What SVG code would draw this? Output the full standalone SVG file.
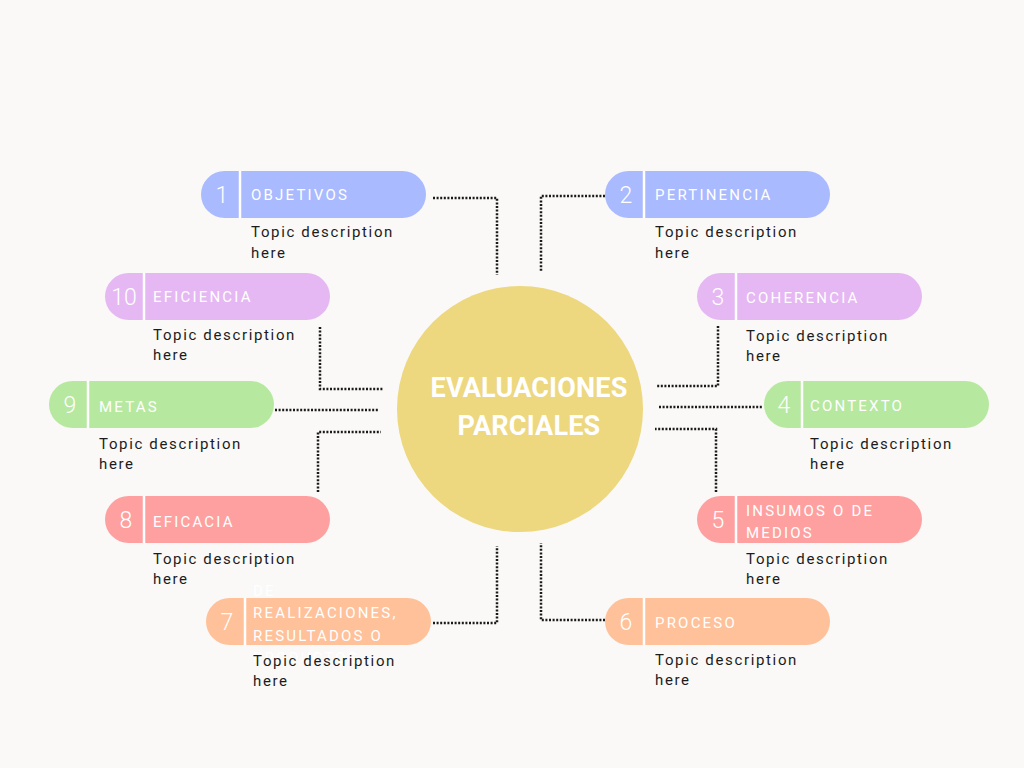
<svg xmlns="http://www.w3.org/2000/svg" width="1024" height="768" viewBox="0 0 1024 768">
  <style>
    .num { font-family: Roboto, "Liberation Sans", sans-serif; font-size: 23px; font-weight: 300; fill: #ffffff; text-anchor: middle; }
    .lbl { font-family: Roboto, "Liberation Sans", sans-serif; font-size: 15px; fill: #ffffff; letter-spacing: 2.2px; }
    .desc { font-family: Roboto, "Liberation Sans", sans-serif; font-size: 15px; fill: #1c1c1c; letter-spacing: 1.65px; }
    .sep { stroke: #ffffff; stroke-width: 2.5; }
    .title { font-family: Roboto, "Liberation Sans", sans-serif; font-size: 27px; font-weight: 700; fill: #ffffff; text-anchor: middle; letter-spacing: 0.2px; }
    .link { fill: none; stroke: #1a1a1a; stroke-width: 2.5; stroke-dasharray: 2 1.6; }
    .blue { fill: #AABAFE; }
    .purple { fill: #E5B8F3; }
    .green { fill: #B6E8A0; }
    .red { fill: #FFA0A0; }
    .peach { fill: #FFC199; }
  </style>
  <rect width="1024" height="768" fill="#FAF9F7"/>

  <g id="connectors">
    <polyline class="link" points="433,198 497,198 497,275"/>
    <polyline class="link" points="605,196 541,196 541,272"/>
    <polyline class="link" points="320,327 320,389 383,389"/>
    <polyline class="link" points="718,326 718,386 657,386"/>
    <polyline class="link" points="275,410 379,410"/>
    <polyline class="link" points="659,407 763,407"/>
    <polyline class="link" points="318,492 318,432 381,432"/>
    <polyline class="link" points="716,492 716,429 655,429"/>
    <polyline class="link" points="433,623 497,623 497,546"/>
    <polyline class="link" points="605,620 541,620 541,543"/>
  </g>

  <g id="center">
    <circle cx="520" cy="409" r="123" fill="#EDD77F"/>
    <text class="title" x="529" y="397">EVALUACIONES</text>
    <text class="title" x="529" y="435">PARCIALES</text>
  </g>

  <g id="node1">
    <rect class="blue" x="201" y="171" width="225" height="47" rx="23.5"/>
    <line class="sep" x1="240" y1="171" x2="240" y2="218"/>
    <text class="num" x="222" y="203">1</text>
    <text class="lbl" x="251" y="200">OBJETIVOS</text>
    <text class="desc" x="251" y="237">Topic description</text>
    <text class="desc" x="251" y="258">here</text>
  </g>

  <g id="node2">
    <rect class="blue" x="605" y="171" width="225" height="47" rx="23.5"/>
    <line class="sep" x1="644" y1="171" x2="644" y2="218"/>
    <text class="num" x="626" y="203">2</text>
    <text class="lbl" x="655" y="200">PERTINENCIA</text>
    <text class="desc" x="655" y="237">Topic description</text>
    <text class="desc" x="655" y="258">here</text>
  </g>

  <g id="node3">
    <rect class="purple" x="697" y="273" width="225" height="47" rx="23.5"/>
    <line class="sep" x1="736" y1="273" x2="736" y2="320"/>
    <text class="num" x="718" y="305">3</text>
    <text class="lbl" x="746" y="303">COHERENCIA</text>
    <text class="desc" x="746" y="341">Topic description</text>
    <text class="desc" x="746" y="361">here</text>
  </g>

  <g id="node4">
    <rect class="green" x="764" y="381" width="225" height="47" rx="23.5"/>
    <line class="sep" x1="802" y1="381" x2="802" y2="428"/>
    <text class="num" x="784" y="413">4</text>
    <text class="lbl" x="810" y="411">CONTEXTO</text>
    <text class="desc" x="810" y="449">Topic description</text>
    <text class="desc" x="810" y="469">here</text>
  </g>

  <g id="node5">
    <rect class="red" x="697" y="496" width="225" height="47" rx="23.5"/>
    <line class="sep" x1="736" y1="496" x2="736" y2="543"/>
    <text class="num" x="718" y="528">5</text>
    <text class="lbl" x="746" y="516">INSUMOS O DE</text>
    <text class="lbl" x="746" y="538">MEDIOS</text>
    <text class="desc" x="746" y="564">Topic description</text>
    <text class="desc" x="746" y="584">here</text>
  </g>

  <g id="node6">
    <rect class="peach" x="605" y="598" width="225" height="47" rx="23.5"/>
    <line class="sep" x1="644" y1="598" x2="644" y2="645"/>
    <text class="num" x="626" y="630">6</text>
    <text class="lbl" x="655" y="628">PROCESO</text>
    <text class="desc" x="655" y="665">Topic description</text>
    <text class="desc" x="655" y="685">here</text>
  </g>

  <g id="node7">
    <rect class="peach" x="206" y="598" width="225" height="47" rx="23.5"/>
    <line class="sep" x1="245" y1="598" x2="245" y2="645"/>
    <text class="num" x="227" y="630">7</text>
    <!-- four-line label overflows the pill; the last line sits under the description -->
    <text class="lbl" x="253" y="596">DE</text>
    <text class="lbl" x="253" y="618">REALIZACIONES,</text>
    <text class="lbl" x="253" y="641">RESULTADOS O</text>
    <text class="lbl" x="253" y="663">PRODUCTOS</text>
    <text class="desc" x="253" y="666">Topic description</text>
    <text class="desc" x="253" y="686">here</text>
  </g>

  <g id="node8">
    <rect class="red" x="105" y="496" width="225" height="47" rx="23.5"/>
    <line class="sep" x1="144" y1="496" x2="144" y2="543"/>
    <text class="num" x="126" y="528">8</text>
    <text class="lbl" x="153" y="527">EFICACIA</text>
    <text class="desc" x="153" y="564">Topic description</text>
    <text class="desc" x="153" y="584">here</text>
  </g>

  <g id="node9">
    <rect class="green" x="49" y="381" width="225" height="47" rx="23.5"/>
    <line class="sep" x1="88" y1="381" x2="88" y2="428"/>
    <text class="num" x="70" y="413">9</text>
    <text class="lbl" x="99" y="412">METAS</text>
    <text class="desc" x="99" y="449">Topic description</text>
    <text class="desc" x="99" y="469">here</text>
  </g>

  <g id="node10">
    <rect class="purple" x="105" y="273" width="225" height="47" rx="23.5"/>
    <line class="sep" x1="144" y1="273" x2="144" y2="320"/>
    <text class="num" x="124" y="305">10</text>
    <text class="lbl" x="153" y="302">EFICIENCIA</text>
    <text class="desc" x="153" y="340">Topic description</text>
    <text class="desc" x="153" y="360">here</text>
  </g>
</svg>
